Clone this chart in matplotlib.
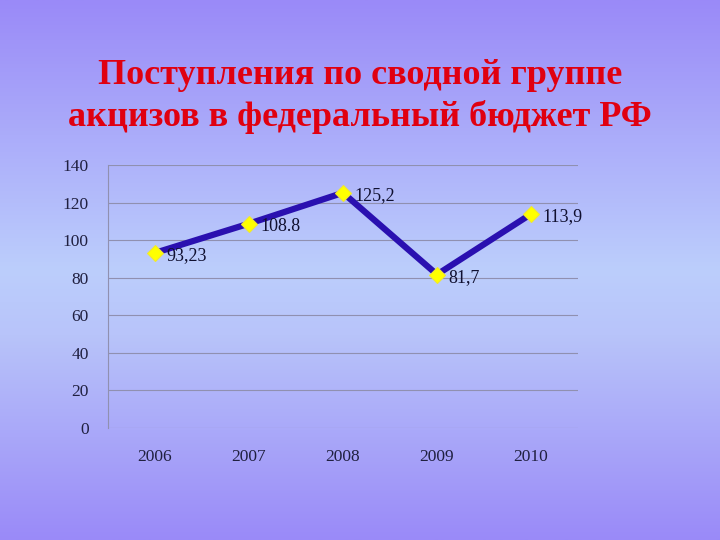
import numpy as np
import matplotlib
matplotlib.use("Agg")
import matplotlib.pyplot as plt
from matplotlib.colors import LinearSegmentedColormap

years = ["2006", "2007", "2008", "2009", "2010"]
values = [93.23, 108.8, 125.2, 81.7, 113.9]
labels = ["93,23", "108.8", "125,2", "81,7", "113,9"]
yticks = [0, 20, 40, 60, 80, 100, 120, 140]

plt.rcParams['font.family'] = ['Liberation Serif', 'DejaVu Serif']

fig = plt.figure(figsize=(7.2, 5.4), dpi=100)

# gradient background
bg = fig.add_axes([0, 0, 1, 1], zorder=-10)
cmap = LinearSegmentedColormap.from_list(
    "bg", [(0.0, "#9a8af8"), (0.5, "#bccefc"), (0.62, "#b8c4fa"), (1.0, "#9a8af8")])
grad = np.linspace(0, 1, 256).reshape(-1, 1)
bg.imshow(grad, aspect="auto", cmap=cmap, extent=[0, 1, 0, 1], origin="upper")
bg.axis("off")

fig.text(0.5, 1 - 75 / 540, "Поступления по сводной группе", ha="center", va="center",
         fontsize=26, fontweight="bold", color="#e00010")
fig.text(0.5, 1 - 117 / 540, "акцизов в федеральный бюджет РФ", ha="center", va="center",
         fontsize=26, fontweight="bold", color="#e00010")

ax = fig.add_axes([108 / 720, 1 - 428 / 540, 470 / 720, 263 / 540])
ax.patch.set_alpha(0)
x = np.arange(len(years))
ax.plot(x, values, color="#2a10b0", linewidth=4.5, zorder=3,
        marker="D", markersize=8, markerfacecolor="#ffff00", markeredgecolor="#f0e830",
        markeredgewidth=0.8)
for xi, v, lab in zip(x, values, labels):
    ax.annotate(lab, (xi, v), xytext=(8, -2), textcoords="offset points",
                ha="left", va="center", fontsize=13, color="#101030")

ax.set_xlim(-0.5, len(years) - 0.5)
ax.set_ylim(0, 140)
ax.set_yticks(yticks)
ax.set_xticks(x)
ax.set_xticklabels(years)
ax.yaxis.grid(True, color="#9090b0", linewidth=0.8)
ax.set_axisbelow(True)
for s in ["top", "right", "bottom"]:
    ax.spines[s].set_visible(False)
ax.spines["left"].set_color("#9090b0")
ax.spines["left"].set_linewidth(0.8)
ax.tick_params(axis="both", length=0, labelsize=12.5, labelcolor="#202040")
ax.tick_params(axis="y", pad=14)
ax.tick_params(axis="x", pad=15)

fig.savefig("out.png", dpi=100)
